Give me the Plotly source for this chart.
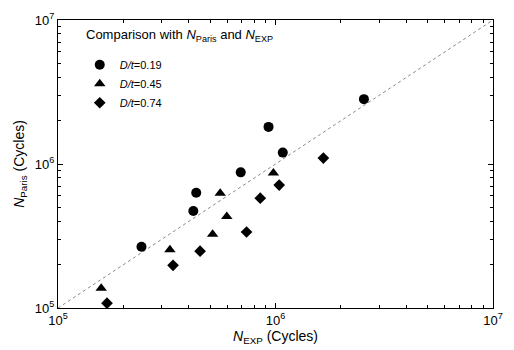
import plotly.graph_objects as go

# Data (cycles)
circ_exp = [2.55e6, 9.29e5, 1.08e6, 6.92e5, 4.32e5, 4.19e5, 2.42e5]
circ_paris = [2.82e6, 1.81e6, 1.20e6, 8.75e5, 6.32e5, 4.71e5, 2.66e5]

tri_exp = [9.78e5, 5.57e5, 5.97e5, 5.14e5, 3.27e5, 1.58e5]
tri_paris = [8.67e5, 6.27e5, 4.32e5, 3.25e5, 2.54e5, 1.37e5]

dia_exp = [1.66e6, 1.04e6, 8.51e5, 7.36e5, 4.50e5, 3.38e5, 1.68e5]
dia_paris = [1.10e6, 7.14e5, 5.79e5, 3.37e5, 2.48e5, 1.98e5, 1.08e5]

diag = [1e5, 1e7]
tick_vals = [1e5, 1e6, 1e7]
tick_text = ["10<sup>5</sup>", "10<sup>6</sup>", "10<sup>7</sup>"]
minor_vals = [m * 10 ** e for e in (5, 6) for m in range(2, 10)]

FONT = "Liberation Sans"

fig = go.Figure()
fig.add_trace(go.Scatter(x=diag, y=diag, mode="lines", showlegend=False,
                         line=dict(color="#888", width=1, dash="dot"), hoverinfo="skip"))
fig.add_trace(go.Scatter(x=circ_exp, y=circ_paris, mode="markers", name="<i>D/t</i>=0.19",
                         marker=dict(symbol="circle", size=10, color="black")))
fig.add_trace(go.Scatter(x=tri_exp, y=tri_paris, mode="markers", name="<i>D/t</i>=0.45",
                         marker=dict(symbol="triangle-up", size=10, color="black")))
fig.add_trace(go.Scatter(x=dia_exp, y=dia_paris, mode="markers", name="<i>D/t</i>=0.74",
                         marker=dict(symbol="diamond", size=9, color="black")))

axis_common = dict(
    type="log", range=[5, 7], tickvals=tick_vals, ticktext=tick_text,
    ticks="inside", ticklen=5, tickcolor="black", showline=True, linecolor="black",
    linewidth=1, mirror="allticks", showgrid=False, zeroline=False,
    tickfont=dict(family=FONT, size=13, color="black"),
    minor=dict(ticks="inside", ticklen=3, tickcolor="black", showgrid=False,
               tickvals=minor_vals),
)

fig.update_layout(
    width=514, height=350,
    margin=dict(l=58, r=11, t=15, b=37),
    paper_bgcolor="white", plot_bgcolor="white",
    font=dict(family=FONT, size=12, color="black"),
    xaxis=dict(axis_common, title=dict(text="<i>N</i><sub>EXP</sub> (Cycles)",
                                       font=dict(family=FONT, size=14), standoff=2)),
    yaxis=dict(axis_common, title=dict(text="<i>N</i><sub>Paris</sub> (Cycles)",
                                       font=dict(family=FONT, size=14), standoff=6)),
    legend=dict(x=0.05, y=0.895, xanchor="left", yanchor="top",
                bgcolor="rgba(0,0,0,0)", itemwidth=30,
                font=dict(family=FONT, size=11, color="black")),
    annotations=[dict(text="Comparison with <i>N</i><sub>Paris</sub> and <i>N</i><sub>EXP</sub>",
                      xref="paper", yref="paper", x=0.06, y=0.945, xanchor="left",
                      yanchor="middle", showarrow=False,
                      font=dict(family=FONT, size=13, color="black"))],
)

fig.write_html("out.html")
